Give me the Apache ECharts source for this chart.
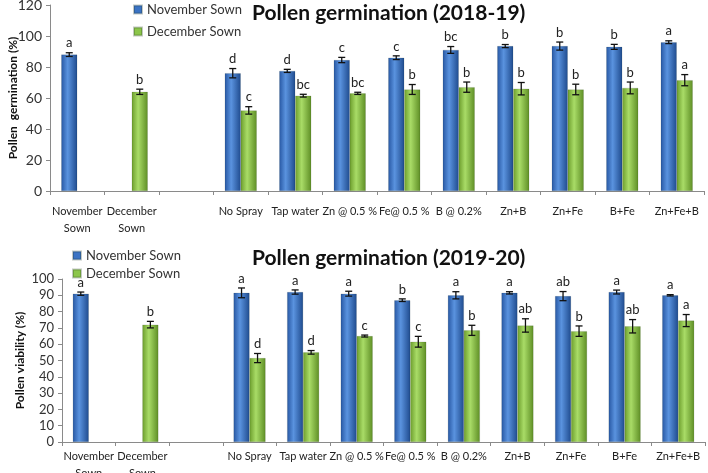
<!DOCTYPE html>
<html>
<head>
<meta charset="utf-8">
<script src="https://cdn.jsdelivr.net/npm/echarts@6/dist/echarts.min.js"></script>
<style>
  html, body { margin: 0; padding: 0; background: #fff; }
  #chart { width: 708px; height: 473px; }
</style>
</head>
<body>
<div id="chart"></div>
<script>
  // categories (the empty one is the gap between sowing dates and sprays)
  const categories = ['November\nSown', 'December\nSown', '', 'No Spray', 'Tap water', 'Zn @ 0.5 %',
    'Fe@ 0.5 %', 'B @ 0.2%', 'Zn+B', 'Zn+Fe', 'B+Fe', 'Zn+Fe+B'];
  const seriesNames = ['November Sown', 'December Sown'];

  // 2018-19 pollen germination (%)
  const nov1 = [88, null, null, 76, 77.5, 84.5, 86, 91, 93.5, 93.5, 93, 96];
  const dec1 = [null, 64, null, 52, 61.5, 63, 65.5, 67, 66, 65.5, 66.5, 71.5];
  const nov1Err = [1.2, null, null, 3, 1, 1.7, 1.2, 2.2, 1, 2.6, 1.6, 0.9];
  const dec1Err = [null, 1.7, null, 2.4, 0.9, 0.7, 3.2, 3.3, 4, 3.4, 3.8, 3.6];
  const nov1Sig = ['a', '', '', 'd', 'd', 'c', 'c', 'bc', 'b', 'b', 'b', 'a'];
  const dec1Sig = ['', 'b', '', 'c', 'bc', 'bc', 'b', 'b', 'b', 'b', 'b', 'a'];

  // 2019-20 pollen viability (%)
  const nov2 = [91, null, null, 91.5, 92, 91, 87, 90, 91.5, 89.5, 92, 90];
  const dec2 = [null, 72, null, 51.5, 55, 65, 61.5, 68.5, 71.5, 68, 71, 74.5];
  const nov2Err = [1, null, null, 3, 1.3, 1.5, 0.8, 2.2, 0.7, 2.8, 1.2, 0.4];
  const dec2Err = [null, 2, null, 2.8, 1.1, 0.6, 3.3, 3.1, 4.1, 3.2, 4.1, 3.7];
  const nov2Sig = ['a', '', '', 'a', 'a', 'a', 'b', 'a', 'a', 'ab', 'a', 'a'];
  const dec2Sig = ['', 'b', '', 'd', 'd', 'c', 'c', 'b', 'ab', 'b', 'ab', 'a'];

  const blueFill = new echarts.graphic.LinearGradient(0, 0, 1, 0, [
    { offset: 0, color: '#2757a3' }, { offset: 0.4, color: '#5a93df' }, { offset: 1, color: '#1f4b8e' }
  ]);
  const greenFill = new echarts.graphic.LinearGradient(0, 0, 1, 0, [
    { offset: 0, color: '#6c9d2c' }, { offset: 0.4, color: '#a9dc67' }, { offset: 1, color: '#5e8e25' }
  ]);
  const BAR_W = 16;
  const font = 'Lato, "Liberation Sans", sans-serif';

  function barSeries(name, vals, fill, gi) {
    return {
      name: name, type: 'bar', data: vals, xAxisIndex: gi, yAxisIndex: gi,
      barWidth: BAR_W, barGap: '0%',
      itemStyle: { color: fill, borderColor: 'rgba(20,40,20,0.25)', borderWidth: 0.5 }
    };
  }

  // error bars + significance letters
  function errSeries(vals, errs, sigs, offset, gi) {
    const data = [];
    vals.forEach((v, i) => { if (v != null) data.push([i, v, errs[i]]); });
    return {
      type: 'custom', xAxisIndex: gi, yAxisIndex: gi, z: 5, silent: true,
      encode: { x: 0, y: 1 }, data: data,
      renderItem: function (params, api) {
        const i = api.value(0), v = api.value(1), e = api.value(2);
        const hi = api.coord([i, v + e]);
        const lo = api.coord([i, v - e]);
        const x = hi[0] + offset;
        const st = { stroke: '#111', lineWidth: 1.3 };
        return {
          type: 'group',
          children: [
            { type: 'line', shape: { x1: x, y1: hi[1], x2: x, y2: lo[1] }, style: st },
            { type: 'line', shape: { x1: x - 3.5, y1: hi[1], x2: x + 3.5, y2: hi[1] }, style: st },
            { type: 'line', shape: { x1: x - 3.5, y1: lo[1], x2: x + 3.5, y2: lo[1] }, style: st },
            { type: 'text', x: x, y: hi[1] - 3,
              style: { text: sigs[i], fill: '#222', font: '13px ' + font, align: 'center', verticalAlign: 'bottom' } }
          ]
        };
      }
    };
  }

  function xAxis(gi, margin) {
    return {
      type: 'category', gridIndex: gi, data: categories,
      axisLine: { lineStyle: { color: '#8a8a8a', width: 1 } },
      axisTick: { show: true, length: 4, lineStyle: { color: '#8a8a8a' } },
      axisLabel: { interval: 0, color: '#222', fontSize: 11, lineHeight: 17, margin: margin, fontFamily: font }
    };
  }

  function yAxis(gi, max, step, name, gap, size) {
    return {
      type: 'value', gridIndex: gi, min: 0, max: max, interval: step,
      name: name, nameLocation: 'middle', nameGap: gap, nameRotate: 90, nameMoveOverlap: false,
      nameTextStyle: { fontWeight: 'bold', fontSize: 12, color: '#111', fontFamily: font },
      axisLine: { show: true, lineStyle: { color: '#8a8a8a' } },
      axisTick: { show: true, length: 4, inside: false, lineStyle: { color: '#8a8a8a' } },
      splitLine: { show: false },
      axisLabel: { color: '#333', fontSize: size, margin: 8, fontFamily: font }
    };
  }

  function legend(left, top, gap) {
    return {
      orient: 'vertical', left: left, top: top, itemGap: gap, itemWidth: 8, itemHeight: 8, padding: 0,
      icon: 'rect', textStyle: { fontSize: 13, color: '#333', fontFamily: font }, selectedMode: false,
      data: [
        { name: seriesNames[0], itemStyle: { color: '#3b73c4' } },
        { name: seriesNames[1], itemStyle: { color: '#8cc64a' } }
      ]
    };
  }

  const chart = echarts.init(document.getElementById('chart'));
  chart.setOption({
    animation: false,
    title: [
      { text: 'Pollen germination (2018-19)', left: 252, top: 3, padding: 0,
        textStyle: { fontSize: 21, fontWeight: 'bold', color: '#111', fontFamily: font } },
      { text: 'Pollen germination (2019-20)', left: 252, top: 248, padding: 0,
        textStyle: { fontSize: 21, fontWeight: 'bold', color: '#111', fontFamily: font } }
    ],
    legend: [legend(133, 3, 9), legend(72, 249, 5)],
    grid: [
      { left: 50, right: 4, top: 5, height: 186, outerBoundsMode: 'none' },
      { left: 62, right: 3, top: 279, height: 163, outerBoundsMode: 'none' }
    ],
    xAxis: [xAxis(0, 12), xAxis(1, 6)],
    yAxis: [
      yAxis(0, 120, 20, 'Pollen  germination (%)', 31, 14),
      yAxis(1, 100, 10, 'Pollen viability (%)', 36, 13)
    ],
    series: [
      barSeries(seriesNames[0], nov1, blueFill, 0),
      barSeries(seriesNames[1], dec1, greenFill, 0),
      barSeries(seriesNames[0], nov2, blueFill, 1),
      barSeries(seriesNames[1], dec2, greenFill, 1),
      errSeries(nov1, nov1Err, nov1Sig, -BAR_W / 2, 0),
      errSeries(dec1, dec1Err, dec1Sig, BAR_W / 2, 0),
      errSeries(nov2, nov2Err, nov2Sig, -BAR_W / 2, 1),
      errSeries(dec2, dec2Err, dec2Sig, BAR_W / 2, 1)
    ]
  });
</script>
</body>
</html>
